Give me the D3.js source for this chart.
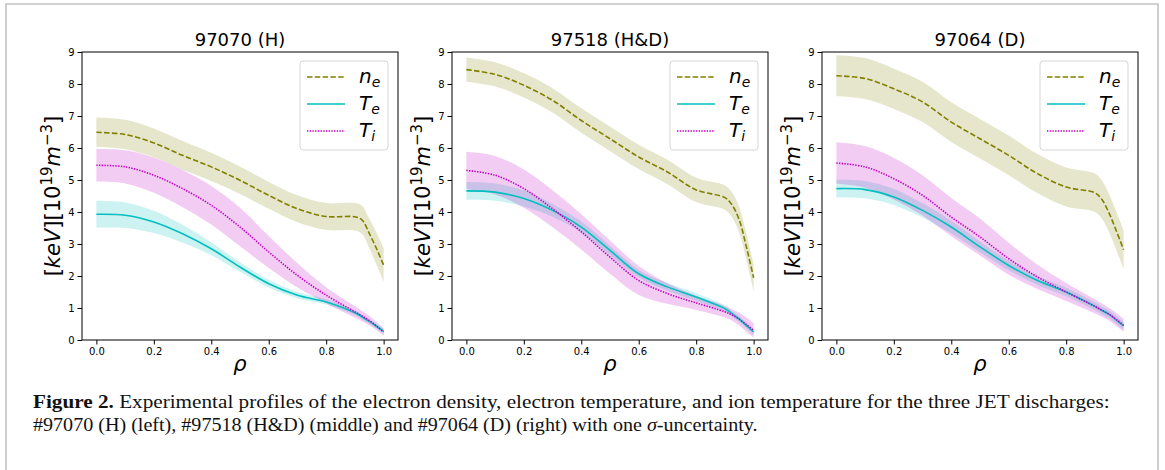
<!DOCTYPE html>
<html>
<head>
<meta charset="utf-8">
<script src="https://cdn.jsdelivr.net/npm/d3@7"></script>
<style>
    body { margin: 0; background: #fff; }
    svg { display: block; }
</style>
</head>
<body>
<svg id="fig"></svg>
<script>
// normalised radius grid shared by all three discharges
const rho = [0, 0.1, 0.2, 0.3, 0.4, 0.5, 0.6, 0.7, 0.8, 0.9, 0.925, 0.95, 0.975, 1.0];

const xTicks = [0, 0.2, 0.4, 0.6, 0.8, 1.0];
const yTicks = [0, 1, 2, 3, 4, 5, 6, 7, 8, 9];
const titles = ['97070 (H)', '97518 (H&D)', '97064 (D)'];

// #97070 (H)
const ne_97070    = [6.49, 6.42, 6.16, 5.77, 5.41, 4.99, 4.52, 4.10, 3.86, 3.85, 3.75, 3.33, 2.86, 2.34];
const neErr_97070 = [0.46, 0.46, 0.45, 0.45, 0.44, 0.43, 0.42, 0.42, 0.42, 0.43, 0.44, 0.46, 0.50, 0.52];
const te_97070    = [3.93, 3.90, 3.69, 3.32, 2.85, 2.28, 1.76, 1.40, 1.19, 0.85, 0.72, 0.58, 0.43, 0.27];
const teErr_97070 = [0.42, 0.40, 0.35, 0.28, 0.20, 0.15, 0.12, 0.10, 0.08, 0.07, 0.07, 0.07, 0.07, 0.08];
const ti_97070    = [5.46, 5.41, 5.15, 4.73, 4.21, 3.53, 2.75, 2.02, 1.40, 0.88, 0.75, 0.61, 0.44, 0.25];
const tiErr_97070 = [0.51, 0.52, 0.55, 0.58, 0.60, 0.60, 0.50, 0.38, 0.25, 0.18, 0.16, 0.15, 0.13, 0.12];

// #97518 (H&D)
const ne_97518    = [8.45, 8.30, 7.96, 7.49, 6.86, 6.29, 5.72, 5.25, 4.69, 4.45, 4.22, 3.75, 2.90, 1.94];
const neErr_97518 = [0.38, 0.38, 0.38, 0.38, 0.38, 0.38, 0.38, 0.38, 0.38, 0.38, 0.39, 0.40, 0.41, 0.42];
const te_97518    = [4.66, 4.62, 4.42, 4.05, 3.53, 2.80, 2.07, 1.66, 1.34, 0.98, 0.82, 0.65, 0.45, 0.25];
const teErr_97518 = [0.28, 0.27, 0.25, 0.20, 0.17, 0.14, 0.12, 0.12, 0.12, 0.10, 0.09, 0.09, 0.08, 0.08];
const ti_97518    = [5.30, 5.15, 4.73, 4.10, 3.38, 2.59, 1.86, 1.45, 1.16, 0.88, 0.78, 0.65, 0.48, 0.30];
const tiErr_97518 = [0.58, 0.60, 0.60, 0.58, 0.55, 0.52, 0.45, 0.32, 0.22, 0.18, 0.18, 0.20, 0.22, 0.22];

// #97064 (D)
const ne_97064    = [8.26, 8.17, 7.85, 7.44, 6.81, 6.29, 5.77, 5.20, 4.78, 4.60, 4.38, 3.95, 3.40, 2.82];
const neErr_97064 = [0.64, 0.64, 0.63, 0.63, 0.62, 0.62, 0.62, 0.61, 0.61, 0.60, 0.60, 0.60, 0.60, 0.60];
const te_97064    = [4.73, 4.70, 4.47, 4.05, 3.53, 2.91, 2.33, 1.86, 1.50, 1.05, 0.92, 0.80, 0.62, 0.44];
const teErr_97064 = [0.28, 0.27, 0.25, 0.22, 0.20, 0.17, 0.15, 0.14, 0.13, 0.12, 0.12, 0.12, 0.12, 0.12];
const ti_97064    = [5.53, 5.41, 5.04, 4.52, 3.84, 3.22, 2.54, 1.97, 1.50, 1.05, 0.93, 0.80, 0.64, 0.46];
const tiErr_97064 = [0.65, 0.65, 0.65, 0.63, 0.60, 0.58, 0.50, 0.38, 0.28, 0.22, 0.20, 0.20, 0.20, 0.20];

const panelData = [
    {ne: ne_97070, neErr: neErr_97070, te: te_97070, teErr: teErr_97070, ti: ti_97070, tiErr: tiErr_97070},
    {ne: ne_97518, neErr: neErr_97518, te: te_97518, teErr: teErr_97518, ti: ti_97518, tiErr: tiErr_97518},
    {ne: ne_97064, neErr: neErr_97064, te: te_97064, teErr: teErr_97064, ti: ti_97064, tiErr: tiErr_97064}
];

const series = [
    {key: 'ne', sym: 'n', sub: 'e', color: '#808000', dash: '5.5,2.3'},
    {key: 'te', sym: 'T', sub: 'e', color: '#00bfbf', dash: null},
    {key: 'ti', sym: 'T', sub: 'i', color: '#bf00bf', dash: '1.4,1.3'}
];

const svg = d3.select('#fig')
    .attr('width', 1165)
    .attr('height', 470);

// light frame around the whole figure
svg.append('path')
    .attr('d', 'M6,472V4H1158V472')
    .attr('fill', 'none')
    .attr('stroke', '#c4c4c4')
    .attr('stroke-width', 1.6);

class ProfilePanel {

    constructor(_config, _data) {
        this.config = {
            parent: _config.parent,
            left: _config.left,
            top: 52,
            width: 316,
            height: 288,
            title: _config.title
        }
        this.data = _data;
        this.initVis();
    }

    initVis() {
        let vis = this;

        vis.xScale = d3.scaleLinear()
            .domain([-0.05, 1.05])
            .range([0, vis.config.width]);

        vis.yScale = d3.scaleLinear()
            .domain([0, 9])
            .range([vis.config.height, 0]);

        vis.xAxis = d3.axisBottom(vis.xScale)
            .tickValues(xTicks)
            .tickSize(4.5)
            .tickPadding(3)
            .tickFormat(d3.format('.1f'));

        vis.yAxis = d3.axisLeft(vis.yScale)
            .tickValues(yTicks)
            .tickSize(4.5)
            .tickPadding(3)
            .tickFormat(d3.format('d'));

        vis.chart = vis.config.parent.append('g')
            .attr('transform', `translate(${vis.config.left},${vis.config.top})`);

        vis.renderVis();
    }

    renderVis() {
        let vis = this;
        const pts = rho.map((r, i) => i);

        // uncertainty bands first, then the profiles on top
        series.forEach(s => {
            const area = d3.area()
                .x(i => vis.xScale(rho[i]))
                .y0(i => vis.yScale(vis.data[s.key][i] - vis.data[s.key + 'Err'][i]))
                .y1(i => vis.yScale(vis.data[s.key][i] + vis.data[s.key + 'Err'][i]))
                .curve(d3.curveCatmullRom.alpha(0.5));
            vis.chart.append('path')
                .datum(pts)
                .attr('d', area)
                .attr('fill', s.color)
                .attr('fill-opacity', 0.2);
        });

        series.forEach(s => {
            const line = d3.line()
                .x(i => vis.xScale(rho[i]))
                .y(i => vis.yScale(vis.data[s.key][i]))
                .curve(d3.curveCatmullRom.alpha(0.5));
            vis.chart.append('path')
                .datum(pts)
                .attr('d', line)
                .attr('fill', 'none')
                .attr('stroke', s.color)
                .attr('stroke-width', 1.6)
                .attr('stroke-dasharray', s.dash);
        });

        vis.chart.append('g')
            .attr('transform', `translate(0,${vis.config.height})`)
            .call(vis.xAxis)
            .call(g => g.select('.domain').remove())
            .call(g => g.selectAll('text').attr('font-family', 'DejaVu Sans').attr('font-size', 10).attr('fill', '#000'));

        vis.chart.append('g')
            .call(vis.yAxis)
            .call(g => g.select('.domain').remove())
            .call(g => g.selectAll('text').attr('font-family', 'DejaVu Sans').attr('font-size', 10).attr('fill', '#000'));

        vis.chart.append('rect')
            .attr('width', vis.config.width)
            .attr('height', vis.config.height)
            .attr('fill', 'none')
            .attr('stroke', '#000')
            .attr('stroke-width', 1);

        vis.chart.append('text')
            .attr('x', vis.config.width / 2)
            .attr('y', -6.5)
            .attr('text-anchor', 'middle')
            .attr('font-family', 'DejaVu Sans')
            .attr('font-size', 18)
            .text(vis.config.title);

        vis.chart.append('text')
            .attr('x', vis.config.width / 2)
            .attr('y', vis.config.height + 31)
            .attr('text-anchor', 'middle')
            .attr('font-family', 'DejaVu Sans')
            .attr('font-style', 'italic')
            .attr('font-size', 21)
            .text('ρ');

        // y label: [keV][10^19 m^-3]
        const yl = vis.chart.append('text')
            .attr('transform', `translate(-22,${vis.config.height / 2}) rotate(-90)`)
            .attr('text-anchor', 'middle')
            .attr('font-family', 'DejaVu Sans')
            .attr('font-size', 21);
        yl.append('tspan').text('[');
        yl.append('tspan').attr('font-style', 'italic').text('keV');
        yl.append('tspan').text('][10');
        yl.append('tspan').attr('font-size', 15).attr('dy', -8).text('19');
        yl.append('tspan').attr('font-style', 'italic').attr('dy', 8).text('m');
        yl.append('tspan').attr('font-size', 15).attr('dy', -8).text('−3');
        yl.append('tspan').attr('dy', 8).text(']');

        // legend
        const lg = vis.chart.append('g')
            .attr('transform', `translate(${vis.config.width - 98},9)`);
        lg.append('rect')
            .attr('width', 88)
            .attr('height', 89)
            .attr('rx', 3)
            .attr('fill', '#fff')
            .attr('fill-opacity', 0.8)
            .attr('stroke', '#d6d6d6');
        series.forEach((s, i) => {
            const yy = 16 + i * 27;
            lg.append('line')
                .attr('x1', 7).attr('x2', 45)
                .attr('y1', yy).attr('y2', yy)
                .attr('stroke', s.color)
                .attr('stroke-width', 1.6)
                .attr('stroke-dasharray', s.dash);
            const t = lg.append('text')
                .attr('x', 59)
                .attr('y', yy + 6)
                .attr('font-family', 'DejaVu Sans')
                .attr('font-style', 'italic')
                .attr('font-size', 20);
            t.append('tspan').text(s.sym);
            t.append('tspan').attr('font-size', 14).attr('dy', 4).text(s.sub);
        });
    }
}

const lefts = [82, 452, 822];
titles.forEach((title, i) => {
    new ProfilePanel({parent: svg, left: lefts[i], title: title}, panelData[i]);
});

// caption, squeezed horizontally to match the narrow journal serif
const captionLines = [
    {y: 408, width: 1077, parts: [
        {text: 'Figure 2.', bold: true},
        {text: ' Experimental profiles of the electron density, electron temperature, and ion temperature for the three JET discharges:'}
    ]},
    {y: 431, width: 725, parts: [
        {text: '#97070 (H) (left), #97518 (H&D) (middle) and #97064 (D) (right) with one '},
        {text: 'σ', italic: true},
        {text: '-uncertainty.'}
    ]}
];

captionLines.forEach(l => {
    const g = svg.append('g');
    const t = g.append('text')
        .attr('font-family', 'Liberation Serif')
        .attr('font-size', 18)
        .attr('fill', '#111');
    l.parts.forEach(p => {
        t.append('tspan')
            .attr('font-weight', p.bold ? 'bold' : null)
            .attr('font-style', p.italic ? 'italic' : null)
            .text(p.text);
    });
    const w = t.node().getComputedTextLength();
    g.attr('transform', `translate(33,${l.y}) scale(${l.width / w},1)`);
});
</script>
</body>
</html>
